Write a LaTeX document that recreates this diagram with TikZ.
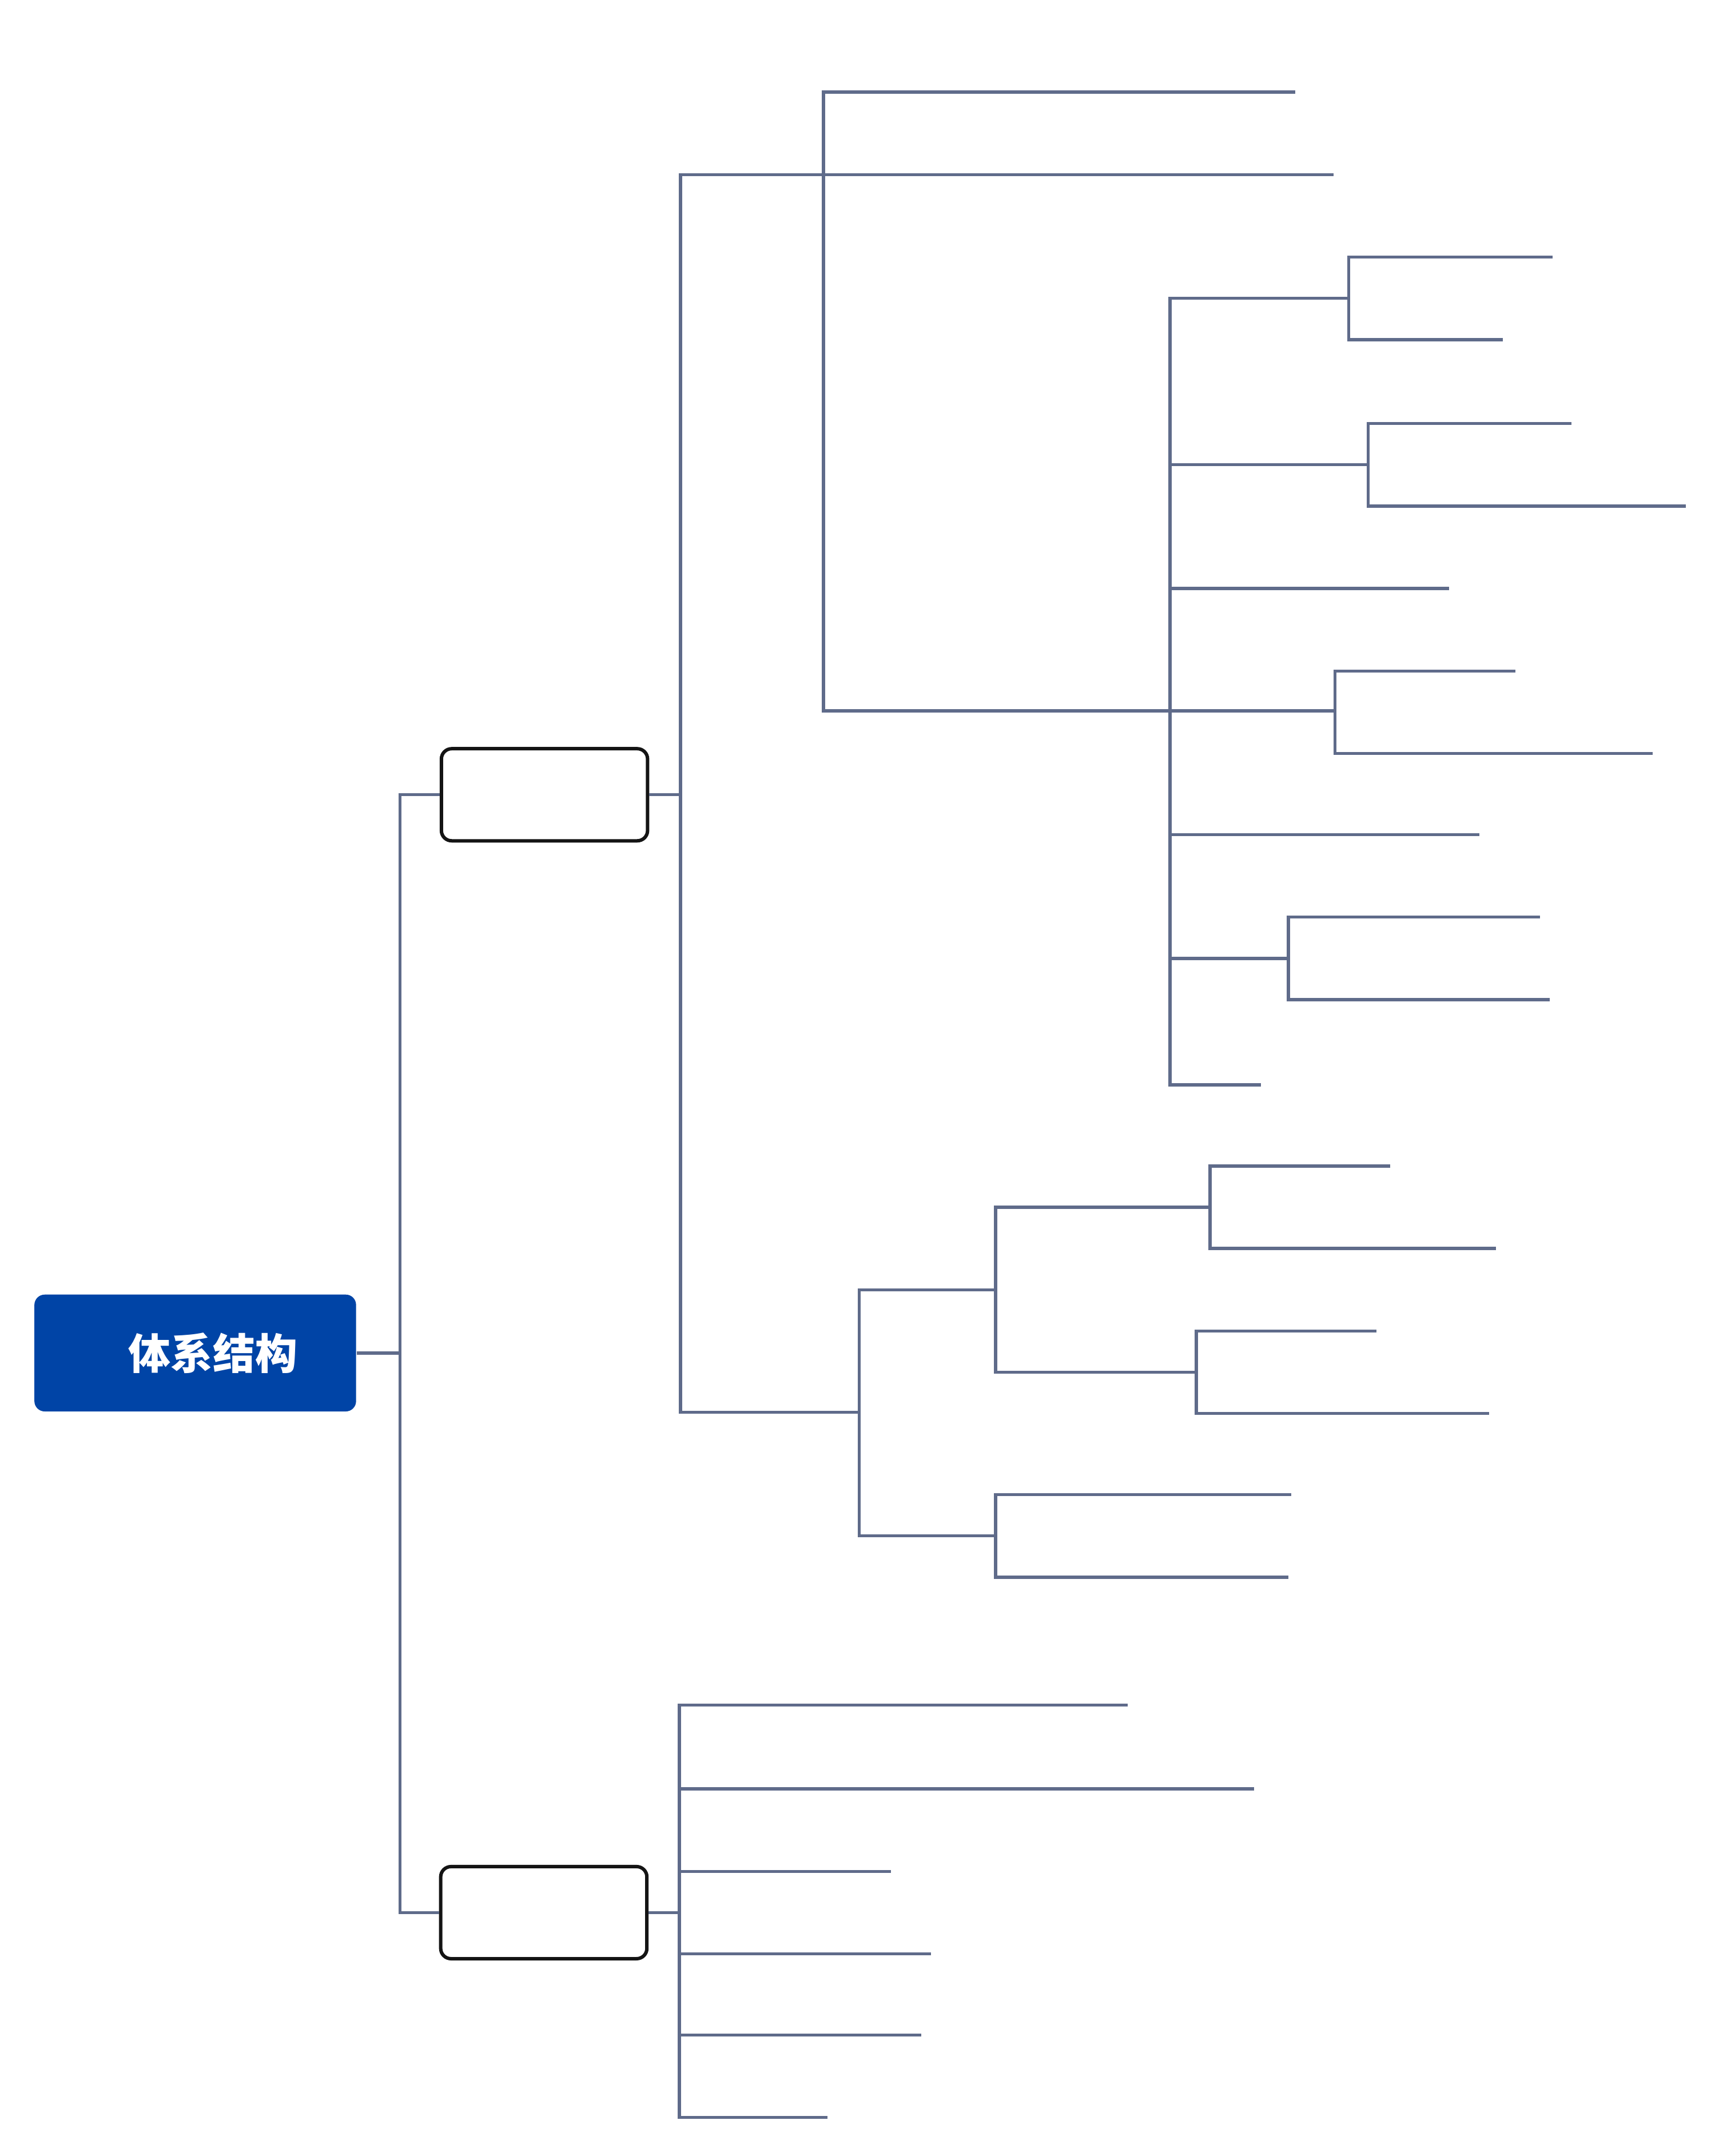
\documentclass[tikz,border=0pt]{standalone}
\usepackage{fontspec}
\usepackage{xcolor}
\usepackage{tikz}
\newfontfamily\cjk{Noto Sans CJK SC}

\definecolor{linegray}{HTML}{5F6B8A}
\definecolor{rootblue}{HTML}{0044A6}

\tikzset{
  branch/.style={draw=linegray, line width=1.3pt},
  topicbox/.style={draw=black!92, line width=1.42pt, rounded corners=0.15cm, fill=white,
    minimum width=3cm, minimum height=1.34cm, inner sep=0pt},
}

\begin{document}
\begin{tikzpicture}[x=0.02cm, y=-0.02cm]
  \useasboundingbox (0,0) rectangle (1250,1568);

  % Root topic
  \node[fill=rootblue, rounded corners=0.15cm, minimum width=4.68cm, minimum height=1.7cm,
        inner sep=0pt, text=white, font=\cjk\bfseries\fontsize{17.5pt}{20pt}\selectfont]
        (root) at (142,984) {\hspace*{0.52cm}体系结构};

  % Two empty main topics
  \node[topicbox] (boxA) at (396,578) {};
  \node[topicbox] (boxB) at (395.5,1391) {};

  % Forks (where a vertical bar starts)
  \foreach \n/\x/\y in {f0/291/984, fA/495/578, fB/599/127, fC/625/1027, fD/851/517,
      fE/981/217, fF/995/338, fG/971/517, fH/937/697, fI/724/938, fJ/724/1117,
      fK/880/878, fL/870/998, fM/494/1391}
    \coordinate (\n) at (\x,\y);

  % Free ends of the empty sub topics
  \foreach \n/\x/\y in {t1/942/67, t2/970/127, t3/1054/428, t4/1076/607, t5/917/789,
      t6/1129/187, t7/1093/247, t8/1143/308, t9/1226/368, t10/1102/488, t11/1202/548,
      t12/1120/667, t13/1127/727, t14/1011/848, t15/1088/908, t16/1001/968, t17/1083/1028,
      t18/939/1087, t19/937/1147, t20/820/1240, t21/912/1301, t22/648/1361,
      t23/677/1421, t24/670/1480, t25/602/1540}
    \coordinate (\n) at (\x,\y);

  % Root to main topics
  \draw[branch] (root.east) -- (f0);
  \draw[branch] (f0) |- (boxA.west);
  \draw[branch] (f0) |- (boxB.west);
  \draw[branch] (boxA.east) -- (fA);
  \draw[branch] (boxB.east) -- (fM);

  % Tree under both main topics
  \foreach \f/\kids in {fA/{fB,fC}, fB/{t1,t2,fD}, fD/{fE,fF,t3,fG,t4,fH,t5},
      fE/{t6,t7}, fF/{t8,t9}, fG/{t10,t11}, fH/{t12,t13},
      fC/{fI,fJ}, fI/{fK,fL}, fK/{t14,t15}, fL/{t16,t17}, fJ/{t18,t19},
      fM/{t20,t21,t22,t23,t24,t25}}
    \foreach \k in \kids
      \draw[branch] (\f) |- (\k);
\end{tikzpicture}
\end{document}
